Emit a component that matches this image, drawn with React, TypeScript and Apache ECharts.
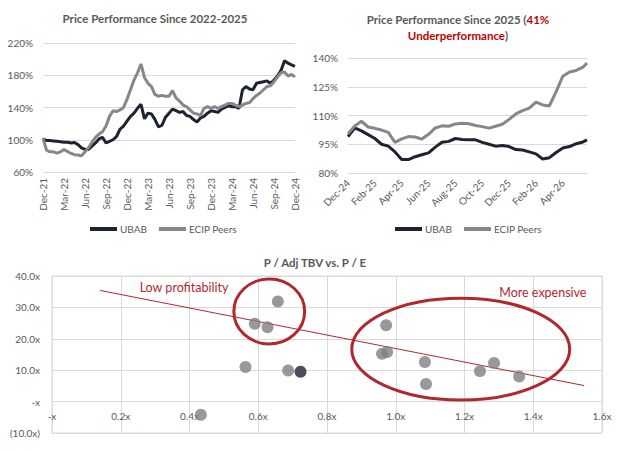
import React, { useEffect, useRef } from 'react';
import * as echarts from 'echarts';

// ---------- Top-left: Price Performance Since 2022-2025 (half-month steps, Dec-21 .. Dec-24) ----------
const leftTickLabels = ['Dec-21', 'Mar-22', 'Jun-22', 'Sep-22', 'Dec-22', 'Mar-23', 'Jun-23', 'Sep-23', 'Dec-23', 'Mar-24', 'Jun-24', 'Sep-24', 'Dec-24'];
const leftUbab = [
  101, 99, 99, 98.5, 98, 97.5, 97, 97, 96, 96.5, 94, 90, 88, 88, 92, 96, 101, 103, 96, 98,
  100, 104, 113, 117, 123, 129, 133, 139, 144, 126, 133, 132, 125, 116, 118, 128, 133, 138, 136, 134,
  135, 130, 129, 125, 122, 127, 129, 133, 136, 135, 134, 138, 140, 142, 141, 141, 139, 162, 166, 163,
  162, 170, 171, 172, 173, 170, 174, 179, 186, 198, 195, 193, 191,
];
const leftPeers = [
  102, 87, 85, 85, 83.5, 85, 88, 85.5, 83, 81.5, 81, 80, 85, 90, 97, 103, 107, 110, 117, 129,
  136, 135, 137, 140, 150, 162, 174, 183, 194, 177, 170, 166, 156, 154, 155, 154, 154, 161, 152, 148,
  143, 141, 137, 133, 132, 130, 139, 141, 139, 141, 139, 141, 143, 145, 145, 143, 141, 143, 145, 146,
  151, 155, 158, 162, 166, 167, 172, 178, 183, 184, 179, 181, 178,
];

// ---------- Top-right: Price Performance Since 2025 (months after Dec-24) ----------
const rightTickLabels = ['Dec-24', 'Feb-25', 'Apr-25', 'Jun-25', 'Aug-25', 'Oct-25', 'Dec-25', 'Feb-26', 'Apr-26'];
const rightMonths = [
  0, 0.5, 1, 1.5, 2, 2.5, 3, 3.5, 4, 4.5, 5, 5.5, 6, 6.5, 7, 7.5, 8, 8.5, 9, 9.5,
  10, 10.5, 11, 11.5, 12, 12.5, 13, 13.5, 14, 14.5, 15, 15.5, 16, 16.5, 17, 17.5, 17.8,
];
const rightUbab = [
  99, 103.5, 102, 100, 98, 95, 94, 91, 87, 87, 88.5, 89.5, 90.5, 93.5, 96, 96.5, 98, 97.5, 97.3, 97.3,
  96, 95, 94, 94.3, 93.8, 92.2, 92, 91, 90, 87.3, 88, 90.7, 93, 93.8, 95.3, 96.2, 97.3,
];
const rightPeers = [
  100.5, 104.5, 107, 104, 103.3, 102.4, 101.2, 96, 97.8, 99, 98.8, 97.7, 100.2, 103.5, 104.6, 104.4, 105.6, 105.9, 105.7, 104.8,
  104.2, 103.4, 104.4, 105.4, 108, 110.8, 112.5, 113.8, 117, 115.5, 115, 122.5, 130.5, 132.7, 133.5, 135.2, 137.4,
];

// ---------- Bottom: P / Adj TBV vs. P / E ----------
const scatterXLabels = ['-x', '0.2x', '0.4x', '0.6x', '0.8x', '1.0x', '1.2x', '1.4x', '1.6x'];
const scatterYLabels = ['(10.0x)', '-x', '10.0x', '20.0x', '30.0x', '40.0x'];
const peerPTBV = [0.657, 0.59, 0.627, 0.563, 0.687, 0.433, 0.972, 0.96, 0.975, 1.085, 1.088, 1.245, 1.286, 1.359];
const peerPE = [31.9, 24.8, 23.7, 11.0, 9.9, -4.2, 24.3, 15.2, 15.8, 12.6, 5.6, 9.7, 12.3, 8.0];
const ubabPTBV = [0.723];
const ubabPE = [9.5];
const trendPTBV = [0.14, 1.548];
const trendPE = [35.4, 5.1];

const FONT = 'Lato, "Open Sans", sans-serif';
const DARK = '#1d2431';
const GRAY = '#878787';
const RED = '#b0282e';
const TXT = '#595959';
const GRID = '#d9d9d9';

const SC_MIN = -10;
const SC_MAX = 40;
const SC_HEIGHT = 157;

export default function App() {
  const ref = useRef<HTMLDivElement>(null);

  useEffect(() => {
    document.body.style.margin = '0';
    if (!ref.current) return;
    const chart = echarts.init(ref.current, null, { renderer: 'svg' });

    const axisLabelStyle = { color: TXT, fontSize: 10, fontFamily: FONT };
    // lift the scatter's x axis (and its labels) from the bottom edge up to P/E = 0
    const zeroOffset = -SC_HEIGHT * (0 - SC_MIN) / (SC_MAX - SC_MIN);

    const option: any = {
      animation: false,
      backgroundColor: '#ffffff',
      textStyle: { fontFamily: FONT },
      grid: [
        { left: 43, top: 43, width: 252, height: 129, containLabel: false, outerBoundsMode: 'none' },
        { left: 348, top: 58, width: 239, height: 115, containLabel: false, outerBoundsMode: 'none' },
        { left: 52, top: 276, width: 550, height: SC_HEIGHT, containLabel: false, outerBoundsMode: 'none', show: true, borderColor: GRID, borderWidth: 1 },
      ],
      legend: [
        {
          data: ['UBAB', 'ECIP Peers'], left: 85, top: 219, icon: 'rect', itemWidth: 27, itemHeight: 4, itemGap: 12,
          textStyle: { color: TXT, fontSize: 10, fontFamily: FONT, padding: [0, 0, 0, -2] },
        },
        {
          data: ['UBAB', 'ECIP Peers'], left: 390, top: 219, icon: 'rect', itemWidth: 27, itemHeight: 4, itemGap: 12,
          textStyle: { color: TXT, fontSize: 10, fontFamily: FONT, padding: [0, 0, 0, -2] },
        },
      ],
      xAxis: [
        {
          type: 'value', gridIndex: 0, min: 0, max: 36, interval: 3,
          axisLine: { show: false }, axisTick: { show: false }, splitLine: { show: false },
          axisLabel: {
            ...axisLabelStyle, rotate: 90, margin: 6,
            formatter: (v: number) => leftTickLabels[Math.round(v / 3)] ?? '',
          },
        },
        {
          type: 'value', gridIndex: 1, min: 0, max: 17.8, interval: 2,
          axisLine: { show: false }, axisTick: { show: false }, splitLine: { show: false },
          axisLabel: {
            ...axisLabelStyle, rotate: 45, margin: 8, showMaxLabel: false,
            formatter: (v: number) => (Math.abs(v / 2 - Math.round(v / 2)) < 1e-6 ? rightTickLabels[Math.round(v / 2)] ?? '' : ''),
          },
        },
        {
          type: 'value', gridIndex: 2, min: 0, max: 1.6, interval: 0.2, position: 'bottom', offset: zeroOffset,
          axisLine: { show: false, onZero: false }, axisTick: { show: false },
          splitLine: { show: true, lineStyle: { color: GRID } },
          axisLabel: {
            ...axisLabelStyle, margin: 9,
            formatter: (v: number) => scatterXLabels[Math.round(v / 0.2)] ?? '',
          },
        },
      ],
      yAxis: [
        {
          type: 'value', gridIndex: 0, min: 60, max: 220, interval: 40,
          axisLine: { show: false }, axisTick: { show: false },
          splitLine: { show: true, lineStyle: { color: GRID } },
          axisLabel: { ...axisLabelStyle, margin: 10, formatter: (v: number) => v + '%' },
        },
        {
          type: 'value', gridIndex: 1, min: 80, max: 140, interval: 15,
          axisLine: { show: false }, axisTick: { show: false },
          splitLine: { show: true, lineStyle: { color: GRID } },
          axisLabel: { ...axisLabelStyle, margin: 10, formatter: (v: number) => v + '%' },
        },
        {
          type: 'value', gridIndex: 2, min: SC_MIN, max: SC_MAX, interval: 10,
          axisLine: { show: false }, axisTick: { show: false },
          splitLine: { show: true, lineStyle: { color: GRID } },
          axisLabel: { ...axisLabelStyle, margin: 12, formatter: (v: number) => scatterYLabels[Math.round((v + 10) / 10)] ?? '' },
        },
      ],
      series: [
        {
          name: 'UBAB', type: 'line', xAxisIndex: 0, yAxisIndex: 0, showSymbol: false, color: DARK,
          lineStyle: { width: 3, color: DARK },
          data: leftUbab.map((v, i) => [i * 0.5, v]),
        },
        {
          name: 'ECIP Peers', type: 'line', xAxisIndex: 0, yAxisIndex: 0, showSymbol: false, color: GRAY,
          lineStyle: { width: 3, color: GRAY },
          data: leftPeers.map((v, i) => [i * 0.5, v]),
        },
        {
          name: 'UBAB', type: 'line', xAxisIndex: 1, yAxisIndex: 1, showSymbol: false, color: DARK,
          lineStyle: { width: 3, color: DARK },
          data: rightUbab.map((v, i) => [rightMonths[i], v]),
        },
        {
          name: 'ECIP Peers', type: 'line', xAxisIndex: 1, yAxisIndex: 1, showSymbol: false, color: GRAY,
          lineStyle: { width: 3, color: GRAY },
          data: rightPeers.map((v, i) => [rightMonths[i], v]),
        },
        {
          name: 'Trend', type: 'line', xAxisIndex: 2, yAxisIndex: 2, showSymbol: false, silent: true,
          lineStyle: { width: 1, color: RED },
          data: trendPTBV.map((x, i) => [x, trendPE[i]]),
          z: 3,
        },
        {
          name: 'Peer multiples', type: 'scatter', xAxisIndex: 2, yAxisIndex: 2, symbolSize: 12,
          itemStyle: { color: '#7f7f7f' },
          data: peerPTBV.map((x, i) => [x, peerPE[i]]),
          z: 4,
        },
        {
          name: 'UBAB multiples', type: 'scatter', xAxisIndex: 2, yAxisIndex: 2, symbolSize: 12,
          itemStyle: { color: DARK },
          data: ubabPTBV.map((x, i) => [x, ubabPE[i]]),
          z: 4,
        },
      ],
    };

    chart.setOption(option);

    const px = (x: number, y: number) => chart.convertToPixel({ gridIndex: 2 } as any, [x, y]) as number[];
    const ellipseEl = (cx: number, cy: number, rx: number, ry: number) => {
      const c = px(cx, cy);
      const ex = px(cx + rx, cy);
      const ey = px(cx, cy + ry);
      return {
        type: 'ellipse', silent: true, z: 10,
        shape: { cx: c[0], cy: c[1], rx: Math.abs(ex[0] - c[0]), ry: Math.abs(c[1] - ey[1]) },
        style: { fill: 'none', stroke: RED, lineWidth: 3 },
      };
    };
    const lowPos = px(0.384, 36.3);
    const expPos = px(1.428, 34.7);

    const titleStyle = { fill: TXT, font: `bold 11.5px ${FONT}`, align: 'center', verticalAlign: 'top' };

    chart.setOption({
      graphic: [
        { type: 'text', x: 155, y: 12, silent: true, style: { ...titleStyle, text: 'Price Performance Since 2022-2025' } },
        {
          type: 'text', x: 458, y: 11, silent: true,
          style: {
            ...titleStyle,
            text: 'Price Performance Since 2025 ({r|41%}\n{r|Underperformance})',
            lineHeight: 16,
            rich: { r: { fill: '#c00000', font: `bold 11.5px ${FONT}`, lineHeight: 16 } },
          },
        },
        { type: 'text', x: 315, y: 256, silent: true, style: { ...titleStyle, text: 'P / Adj TBV vs. P / E' } },
        ellipseEl(0.632, 28.7, 0.103, 10.35),
        ellipseEl(1.189, 16.7, 0.317, 16.2),
        {
          type: 'text', x: lowPos[0], y: lowPos[1], silent: true, z: 10,
          style: { text: 'Low profitability', fill: RED, font: `12.5px ${FONT}`, align: 'center', verticalAlign: 'middle' },
        },
        {
          type: 'text', x: expPos[0], y: expPos[1], silent: true, z: 10,
          style: { text: 'More expensive', fill: RED, font: `12.5px ${FONT}`, align: 'center', verticalAlign: 'middle' },
        },
      ],
    });

    return () => chart.dispose();
  }, []);

  return <div ref={ref} style={{ width: 631, height: 451 }} />;
}
